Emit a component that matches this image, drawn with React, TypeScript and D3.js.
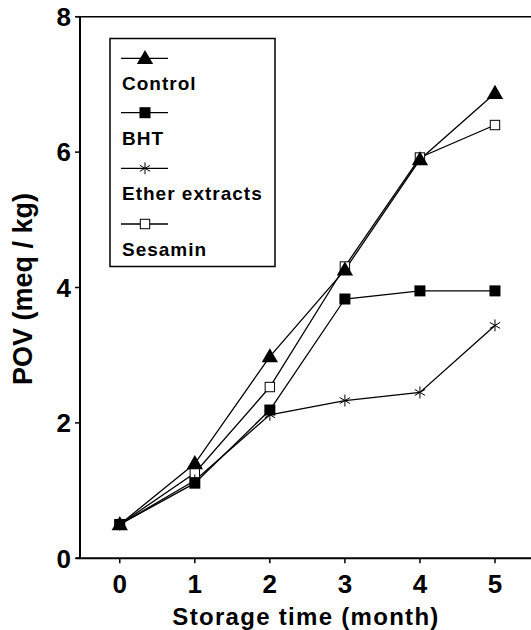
import { useEffect, useRef } from "react";
import * as d3 from "d3";

const months = [0, 1, 2, 3, 4, 5];
const control = [0.5, 1.4, 2.98, 4.26, 5.89, 6.87];
const bht = [0.5, 1.11, 2.19, 3.83, 3.95, 3.95];
const ether = [0.5, 1.15, 2.12, 2.33, 2.45, 3.44];
const sesamin = [0.5, 1.26, 2.53, 4.31, 5.92, 6.4];
const yTicks = [0, 2, 4, 6, 8];
const seriesNames = ["Control", "BHT", "Ether extracts", "Sesamin"];
const markers = ["triangle", "square", "star", "open"];

function drawMarker(g: any, kind: string, x: number, y: number) {
  if (kind === "triangle") {
    g.append("path")
      .attr("d", d3.symbol(d3.symbolTriangle, 115)())
      .attr("transform", `translate(${x},${y + 1})`)
      .attr("fill", "#000");
  } else if (kind === "square") {
    g.append("rect")
      .attr("x", x - 5.5).attr("y", y - 5.5)
      .attr("width", 11).attr("height", 11)
      .attr("fill", "#000");
  } else if (kind === "open") {
    g.append("rect")
      .attr("x", x - 4.7).attr("y", y - 4.7)
      .attr("width", 9.4).attr("height", 9.4)
      .attr("fill", "#fff").attr("stroke", "#000").attr("stroke-width", 1);
  } else {
    g.append("path")
      .attr("d", d3.symbol(d3.symbolAsterisk, 100)())
      .attr("transform", `translate(${x},${y})`)
      .attr("fill", "none").attr("stroke", "#000").attr("stroke-width", 1);
  }
}

export default function App() {
  const ref = useRef<SVGSVGElement>(null);

  useEffect(() => {
    const svg = d3.select(ref.current);
    svg.selectAll("*").remove();

    const x = d3.scaleLinear().domain([-0.53, 5.48]).range([80, 531]);
    const y = d3.scaleLinear().domain([0, 8]).range([558.3, 16.7]);
    const font = "Arial, 'Liberation Sans', Helvetica, sans-serif";

    // axes frame
    svg.append("line").attr("x1", 80).attr("x2", 80).attr("y1", y(8)).attr("y2", y(0))
      .attr("stroke", "#000").attr("stroke-width", 2);
    svg.append("line").attr("x1", 76).attr("x2", 531).attr("y1", y(0)).attr("y2", y(0))
      .attr("stroke", "#000").attr("stroke-width", 2);
    svg.append("line").attr("x1", 76).attr("x2", 531).attr("y1", y(8)).attr("y2", y(8))
      .attr("stroke", "#000").attr("stroke-width", 1.5);

    // y ticks
    yTicks.forEach((t) => {
      svg.append("line").attr("x1", 75).attr("x2", 80).attr("y1", y(t)).attr("y2", y(t))
        .attr("stroke", "#000").attr("stroke-width", 1.5);
      svg.append("text").attr("x", 71).attr("y", y(t)).attr("dy", "0.36em")
        .attr("text-anchor", "end").attr("font-family", font).attr("font-weight", "bold")
        .attr("font-size", 26).text(t);
    });

    // x ticks
    months.forEach((m) => {
      svg.append("line").attr("x1", x(m)).attr("x2", x(m)).attr("y1", y(0)).attr("y2", y(0) + 5)
        .attr("stroke", "#000").attr("stroke-width", 1.5);
      svg.append("text").attr("x", x(m)).attr("y", 592.5)
        .attr("text-anchor", "middle").attr("font-family", font).attr("font-weight", "bold")
        .attr("font-size", 26).text(m);
    });

    svg.append("text").attr("x", 306).attr("y", 625).attr("text-anchor", "middle")
      .attr("font-family", font).attr("font-weight", "bold").attr("font-size", 24)
      .attr("letter-spacing", 1.3)
      .text("Storage  time (month)");
    svg.append("text").attr("transform", `translate(32,289) rotate(-90)`)
      .attr("text-anchor", "middle").attr("font-family", font).attr("font-weight", "bold")
      .attr("font-size", 27).text("POV (meq / kg)");

    const all = [control, bht, ether, sesamin];
    const line = d3.line<number>().x((_, i) => x(months[i])).y((d) => y(d));
    const plot = svg.append("g");
    all.forEach((s) => {
      plot.append("path").attr("d", line(s)).attr("fill", "none")
        .attr("stroke", "#000").attr("stroke-width", 1.3);
    });
    [3, 2, 1, 0].forEach((k) => {
      all[k].forEach((v, i) => drawMarker(plot, markers[k], x(months[i]), y(v)));
    });

    // legend
    const lg = svg.append("g");
    lg.append("rect").attr("x", 110).attr("y", 38.5).attr("width", 165).attr("height", 228)
      .attr("fill", "#fff").attr("stroke", "#000").attr("stroke-width", 1.5);
    const rowY = [58.3, 112.7, 168.3, 224];
    seriesNames.forEach((name, k) => {
      const ly = rowY[k];
      lg.append("line").attr("x1", 121).attr("x2", 168).attr("y1", ly).attr("y2", ly)
        .attr("stroke", "#000").attr("stroke-width", 1.3);
      drawMarker(lg, markers[k], 145, ly);
      lg.append("text").attr("x", 122).attr("y", ly + 32)
        .attr("font-family", font).attr("font-weight", "bold").attr("font-size", 19)
        .attr("letter-spacing", 1)
        .text(name);
    });
  }, []);

  return (
    <svg ref={ref} width={531} height={630}
      style={{ position: "absolute", left: 0, top: 0, background: "#fff" }} />
  );
}
